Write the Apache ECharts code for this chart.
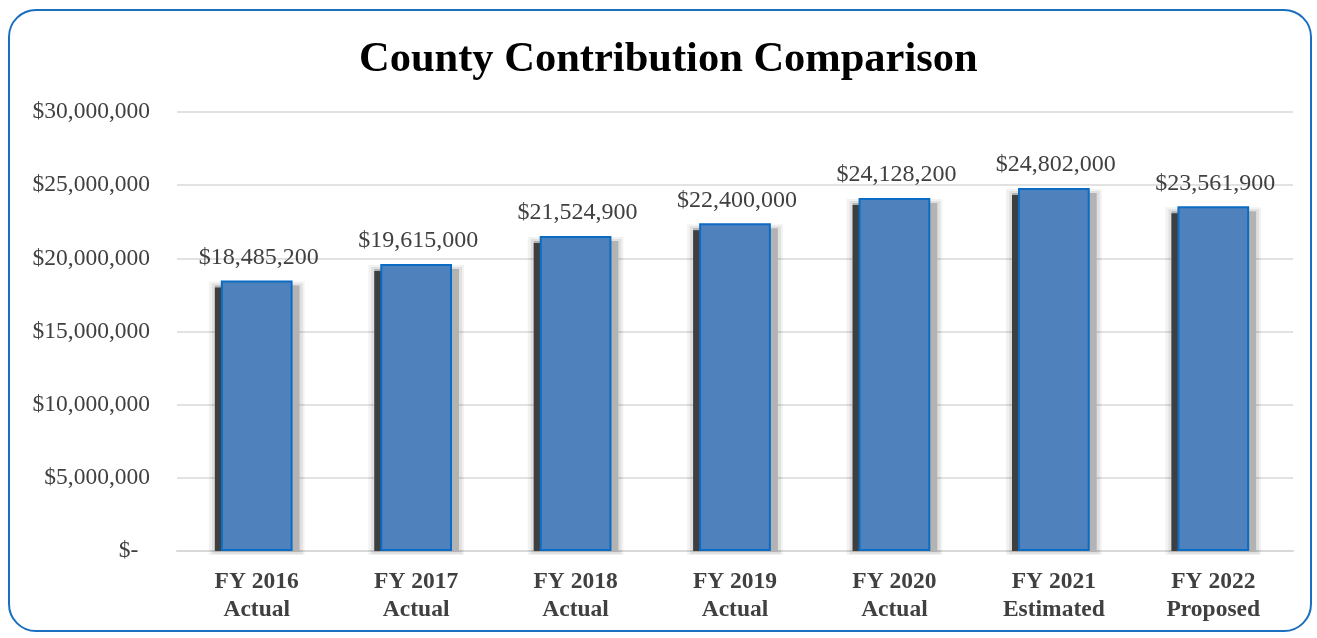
<!DOCTYPE html>
<html><head><meta charset="utf-8">
<script src="https://cdn.jsdelivr.net/npm/echarts@6/dist/echarts.min.js"></script>
<style>
html,body{margin:0;padding:0;background:#fff;}
#frame{position:absolute;left:8px;top:9px;width:1304px;height:623px;border:2px solid #1a6fc0;border-radius:28px;box-sizing:border-box;}
#c{position:absolute;left:0;top:0;width:1317px;height:638px;}
</style>
</head><body>
<div id="frame"></div>
<div id="c"></div>
<script>
const categories = ['FY 2016\nActual','FY 2017\nActual','FY 2018\nActual','FY 2019\nActual','FY 2020\nActual','FY 2021\nEstimated','FY 2022\nProposed'];
const contributions = [18485200, 19615000, 21524900, 22400000, 24128200, 24802000, 23561900];
const yTicks = [0, 5000000, 10000000, 15000000, 20000000, 25000000, 30000000];
const titleText = 'County Contribution Comparison';

function money(v){
  if (v === 0) return '$-  ';
  return '$' + v.toLocaleString('en-US');
}
const serif = '"Liberation Serif","Times New Roman",serif';
const BAR_RATIO = 0.45;
const chart = echarts.init(document.getElementById('c'));
chart.setOption({
  animation:false,
  title:{text:titleText,left:354,top:34,textStyle:{fontFamily:serif,fontWeight:'bold',fontSize:42.5,color:'#000'}},
  grid:{left:177,right:24,top:112,bottom:87},
  xAxis:{type:'category',data:categories,
    axisLine:{lineStyle:{color:'#d9d9d9',width:2}},axisTick:{show:false},
    axisLabel:{fontFamily:serif,fontWeight:'bold',fontSize:23.5,color:'#404040',lineHeight:28,margin:17}},
  yAxis:{type:'value',min:yTicks[0],max:yTicks[yTicks.length-1],interval:5000000,
    axisLine:{show:false},axisTick:{show:false},
    splitLine:{lineStyle:{color:'#d9d9d9',width:1.5}},
    axisLabel:{fontFamily:serif,fontSize:23.5,color:'#404040',margin:27,formatter:money}},
  series:[
    {type:'custom',data:contributions.map((v,i)=>[i,v]),z:1,silent:true,
     renderItem:function(params,api){
       const top = api.coord([api.value(0),api.value(1)]);
       const base = api.coord([api.value(0),0]);
       const w = api.size([1,0])[0]*BAR_RATIO;
       const x = top[0]-w/2;
       const h = base[1]-top[1];
       return {type:'group',children:[
         {type:'rect',shape:{x:x-12,y:top[1]+1,width:w+24,height:h+3},style:{fill:'rgba(0,0,0,0.05)'}},
         {type:'rect',shape:{x:x-9,y:top[1]+3,width:w+19,height:h},style:{fill:'rgba(0,0,0,0.08)'}},
         {type:'rect',shape:{x:x-6,y:top[1]+5,width:w+13,height:h-4},style:{fill:'#b3b3b3'}},
         {type:'rect',shape:{x:x-6,y:top[1]+7,width:8,height:h-7},style:{fill:'#3f3f3f'}}
       ]};
     }},
    {type:'bar',data:contributions,barWidth:(BAR_RATIO*100)+'%',z:2,
    itemStyle:{color:'#4f81bd',borderColor:'#0a6cc4',borderWidth:2},
    label:{show:true,position:'top',distance:11,offset:[2,0],fontFamily:serif,fontSize:24,color:'#404040',formatter:p=>money(p.value)}}]
});
</script>
</body></html>
